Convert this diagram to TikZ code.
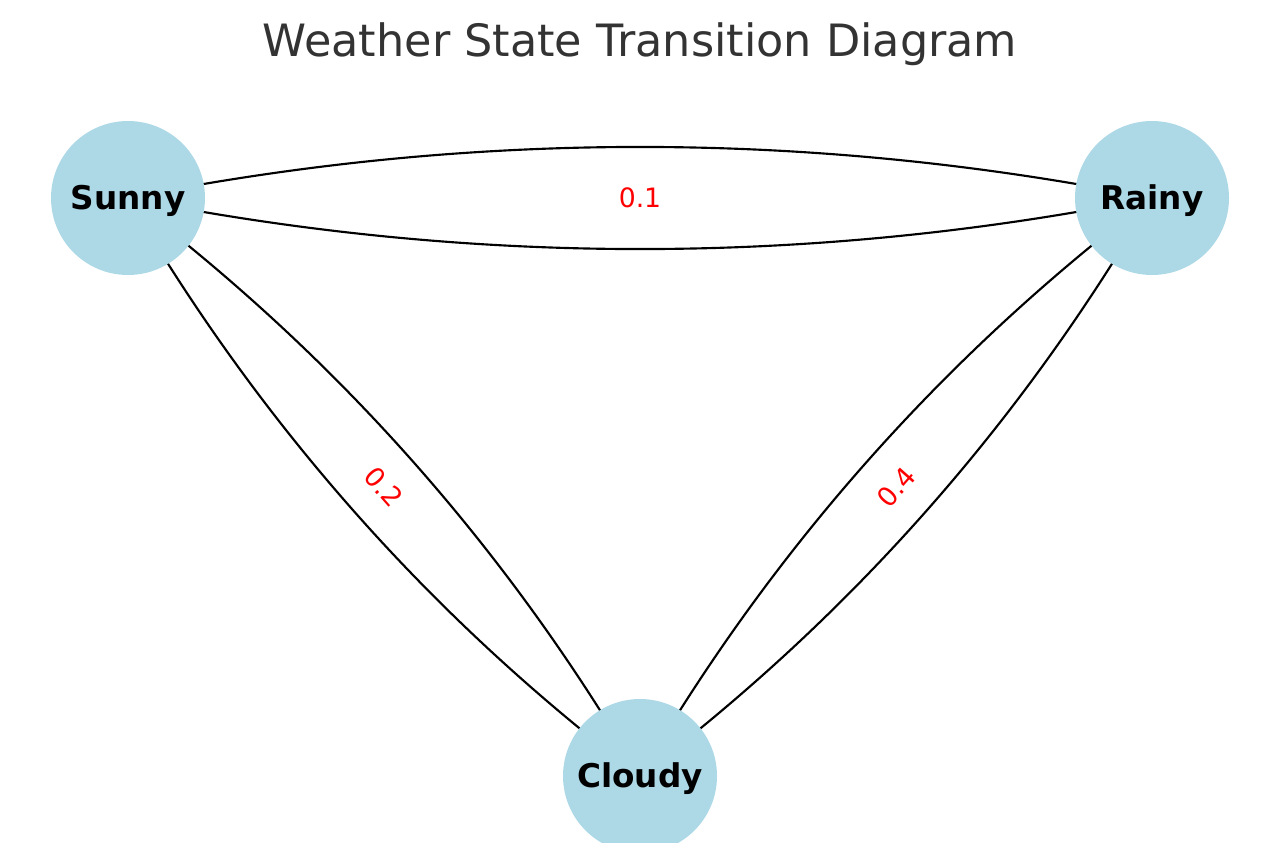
\documentclass[tikz,border=0pt]{standalone}
\usepackage{fontspec}
\setmainfont{DejaVu Sans}
\usepackage{xcolor}
\usetikzlibrary{backgrounds}
\definecolor{statefill}{HTML}{ADD8E6}
\definecolor{titlegray}{HTML}{333333}

\begin{document}
\begin{tikzpicture}[
  x=0.75pt, y=-0.75pt,
  state/.style={circle, fill=statefill, minimum size=115.5pt, inner sep=0pt,
                text height=17.9pt, text depth=0pt,
                font=\fontsize{24.5}{28}\selectfont\bfseries},
  trans/.style={draw=black, line width=1.6pt, looseness=0.87},
  prob/.style={text=red, font=\fontsize{20}{24}\selectfont, inner sep=1pt,
               text height=14.6pt, text depth=0pt}
]
\useasboundingbox (0,0) rectangle (1280,860);
\clip (0,0) rectangle (1280,842);

%% ---- title ----------------------------------------------------------------
\node[text=titlegray, font=\fontsize{33.4}{38}\selectfont,
      text height=24.4pt, text depth=0pt] (title) at (640,40)
  {Weather State Transition Diagram};

%% ---- states ---------------------------------------------------------------
\node[state] (sunny)  at (128,198) {Sunny};
\node[state] (rainy)  at (1152,198) {Rainy};
\node[state] (cloudy) at (640,776) {Cloudy};

%% ---- transitions (drawn centre to centre, hidden under the states) -------
\begin{scope}[on background layer]
  \draw[trans] (sunny.center)  to[bend left=11.3]  (rainy.center);
  \draw[trans] (rainy.center)  to[bend left=11.3]  (sunny.center);
  \draw[trans] (sunny.center)  to[bend left=11.3]  (cloudy.center);
  \draw[trans] (cloudy.center) to[bend left=11.3]  (sunny.center);
  \draw[trans] (rainy.center)  to[bend left=11.3]  (cloudy.center);
  \draw[trans] (cloudy.center) to[bend left=11.3]  (rainy.center);
\end{scope}

%% ---- probabilities --------------------------------------------------------
\node[prob] (p01) at (640,198) {0.1};
\node[prob, rotate=-48.5] (p02) at (384,487) {0.2};
\node[prob, rotate=48.5]  (p04) at (896,487) {0.4};

\end{tikzpicture}
\end{document}
